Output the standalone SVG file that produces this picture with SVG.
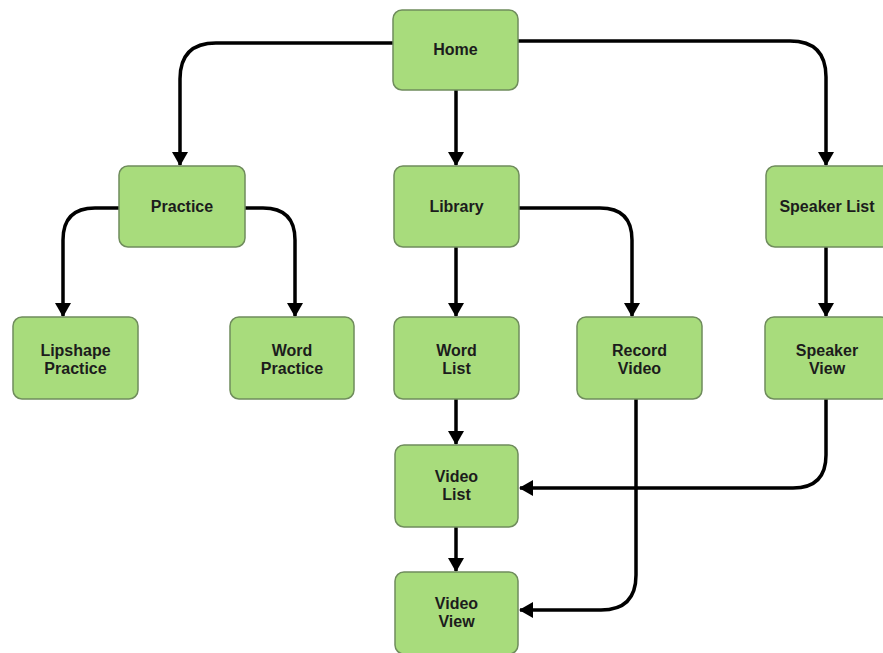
<svg xmlns="http://www.w3.org/2000/svg" width="883" height="653" viewBox="0 0 883 653">
<style>
.n rect{fill:#a8dc7c;stroke:#6f8c5c;stroke-width:1.5}
.n text{font-family:"Liberation Sans",Arial,sans-serif;font-weight:bold;font-size:16px;fill:#1c1c1c;text-anchor:middle}
.c path{fill:none;stroke:#000;stroke-width:3.5}
</style>
<defs>
<marker id="a" markerUnits="userSpaceOnUse" markerWidth="14" markerHeight="16" viewBox="0 0 14 16" refX="13" refY="8" orient="auto">
<path d="M0,0 L14,8 L0,16 z" fill="#000"/>
</marker>
</defs>
<rect width="883" height="653" fill="#fff"/>
<g class="c">
<path d="M393,43 H216 Q180,43 180,79 V165" marker-end="url(#a)"/>
<path d="M518,41 H790 Q826,41 826,77 V165" marker-end="url(#a)"/>
<path d="M456,90 V165" marker-end="url(#a)"/>
<path d="M119,208 H95 Q63,208 63,240 V316" marker-end="url(#a)"/>
<path d="M245,208 H263 Q295,208 295,240 V316" marker-end="url(#a)"/>
<path d="M456,247 V316" marker-end="url(#a)"/>
<path d="M519,208 H600 Q632,208 632,240 V316" marker-end="url(#a)"/>
<path d="M826,247 V316" marker-end="url(#a)"/>
<path d="M456,399 V444" marker-end="url(#a)"/>
<path d="M456,527 V571" marker-end="url(#a)"/>
<path d="M826,399 V455 Q826,488 793,488 H520" marker-end="url(#a)"/>
<path d="M636,399 V575 Q636,610 601,610 H520" marker-end="url(#a)"/>
</g>
<g id="home" class="n"><rect x="393" y="10" width="125" height="80" rx="9"/><text x="455.5" y="55">Home</text></g>
<g id="practice" class="n"><rect x="119" y="166" width="126" height="81" rx="9"/><text x="182" y="212">Practice</text></g>
<g id="library" class="n"><rect x="394" y="166" width="125" height="81" rx="9"/><text x="456.5" y="212">Library</text></g>
<g id="speaker-list" class="n"><rect x="766" y="166" width="125" height="81" rx="9"/><text x="827" y="212">Speaker List</text></g>
<g id="lipshape-practice" class="n"><rect x="13" y="317" width="125" height="82" rx="9"/><text x="75.5" y="356">Lipshape</text><text x="75.5" y="374">Practice</text></g>
<g id="word-practice" class="n"><rect x="230" y="317" width="124" height="82" rx="9"/><text x="292" y="356">Word</text><text x="292" y="374">Practice</text></g>
<g id="word-list" class="n"><rect x="394" y="317" width="125" height="82" rx="9"/><text x="456.5" y="356">Word</text><text x="456.5" y="374">List</text></g>
<g id="record-video" class="n"><rect x="577" y="317" width="125" height="82" rx="9"/><text x="639.5" y="356">Record</text><text x="639.5" y="374">Video</text></g>
<g id="speaker-view" class="n"><rect x="765" y="317" width="125" height="82" rx="9"/><text x="827" y="356">Speaker</text><text x="827" y="374">View</text></g>
<g id="video-list" class="n"><rect x="395" y="445" width="123" height="82" rx="9"/><text x="456.5" y="482">Video</text><text x="456.5" y="500">List</text></g>
<g id="video-view" class="n"><rect x="395" y="572" width="123" height="82" rx="9"/><text x="456.5" y="609">Video</text><text x="456.5" y="627">View</text></g>
</svg>
